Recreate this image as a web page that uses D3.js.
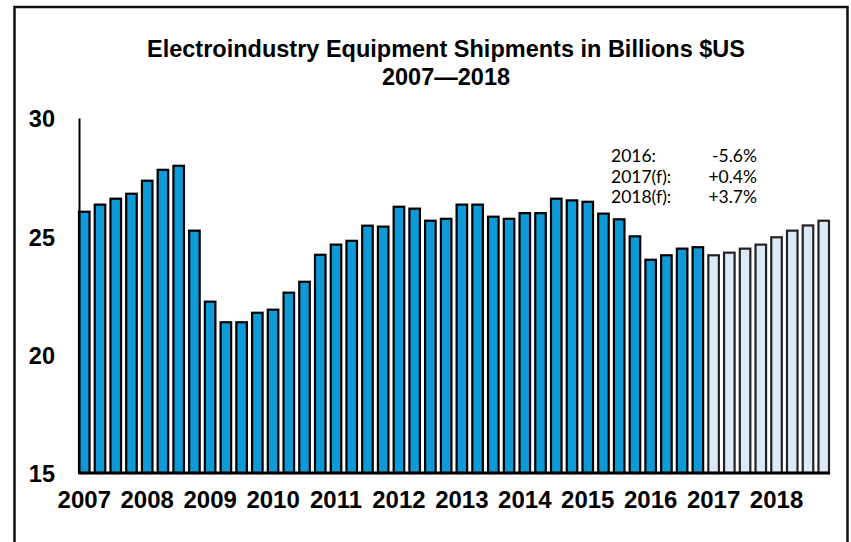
<!DOCTYPE html>
<html>
<head>
<meta charset="utf-8">
<script src="https://cdnjs.cloudflare.com/ajax/libs/d3/7.8.5/d3.min.js"></script>
<style>
  html, body { margin: 0; padding: 0; background: #fff; }
  svg { display: block; }
</style>
</head>
<body>
<svg id="chart" width="851" height="542"></svg>
<script>
// ---- data ----
const years = [2007, 2008, 2009, 2010, 2011, 2012, 2013, 2014, 2015, 2016, 2017, 2018];
const quarters = ["Q1", "Q2", "Q3", "Q4"];
const actualValues = [
  26.04, 26.34, 26.59, 26.80,   // 2007
  27.35, 27.81, 27.98, 25.24,   // 2008
  22.24, 21.37, 21.37, 21.77,   // 2009
  21.90, 22.62, 23.08, 24.22,   // 2010
  24.65, 24.81, 25.45, 25.41,   // 2011
  26.25, 26.17, 25.66, 25.74,   // 2012
  26.34, 26.34, 25.83, 25.74,   // 2013
  25.98, 25.98, 26.59, 26.52,   // 2014
  26.46, 25.96, 25.72, 25.00,   // 2015
  24.01, 24.20, 24.48, 24.54    // 2016
];
const forecastValues = [
  24.20, 24.31, 24.48, 24.65,   // 2017(f)
  24.96, 25.24, 25.46, 25.66    // 2018(f)
];
const yTicks = [15, 20, 25, 30];
const titleLines = ["Electroindustry Equipment Shipments in Billions $US", "2007\u20142018"];
const noteLabels = ["2016:", "2017(f):", "2018(f):"];
const noteValues = ["-5.6%", "+0.4%", "+3.7%"];

// ---- build rows ----
const rows = [];
years.forEach((yr, yi) => quarters.forEach((q, qi) => {
  const i = yi * 4 + qi;
  const forecast = i >= actualValues.length;
  const v = forecast ? forecastValues[i - actualValues.length] : actualValues[i];
  rows.push({ key: yr + " " + q, year: yr, q: qi, value: v, forecast });
}));

const svg = d3.select("#chart");

// frame
svg.append("rect")
  .attr("x", 14.5).attr("y", 7).attr("width", 833).attr("height", 560)
  .attr("fill", "none").attr("stroke", "#111").attr("stroke-width", 2.5);

const x = d3.scaleBand()
  .domain(rows.map(d => d.key))
  .range([79, 829])
  .paddingInner(0.33)
  .paddingOuter(0);

const y = d3.scaleLinear().domain([15, 30]).range([473, 118]);

// title
svg.append("g").selectAll("text").data(titleLines).join("text")
  .attr("x", 446)
  .attr("y", (d, i) => 57 + i * 28)
  .attr("text-anchor", "middle")
  .attr("font-family", "Liberation Sans, Arial, sans-serif")
  .attr("font-weight", "bold")
  .attr("font-size", 23.5)
  .attr("fill", "#000")
  .text(d => d);

// bars
svg.append("g").selectAll("rect").data(rows).join("rect")
  .attr("x", d => x(d.key))
  .attr("y", d => y(d.value))
  .attr("width", x.bandwidth())
  .attr("height", d => y(15) - y(d.value))
  .attr("fill", d => d.forecast ? "#dde9f5" : "#0e9ad6")
  .attr("stroke", d => d.forecast ? "#222" : "#000")
  .attr("stroke-width", 2.2);

// y axis
const yAxis = d3.axisLeft(y).tickValues(yTicks).tickSize(0).tickPadding(24).tickFormat(d3.format("d"));
const ya = svg.append("g").attr("transform", "translate(79,0)").call(yAxis);
ya.select(".domain").attr("stroke", "#000").attr("stroke-width", 2);
ya.selectAll("text")
  .attr("font-family", "Liberation Sans, Arial, sans-serif")
  .attr("font-weight", "bold")
  .attr("font-size", 23.5)
  .attr("fill", "#000")
  .attr("dy", "0.38em");

// x axis (labels at first quarter of each year)
const firstKeys = years.map(yr => yr + " Q1");
const xAxis = d3.axisBottom(x).tickValues(firstKeys).tickSize(0).tickPadding(18)
  .tickFormat(k => k.split(" ")[0]);
const xa = svg.append("g").attr("transform", "translate(0,473)").call(xAxis);
xa.select(".domain").remove();
xa.selectAll("text")
  .attr("font-family", "Liberation Sans, Arial, sans-serif")
  .attr("font-weight", "bold")
  .attr("font-size", 24)
  .attr("fill", "#000");

// baseline
svg.append("line")
  .attr("x1", x.range()[0]).attr("x2", x.range()[1] + 1)
  .attr("y1", y(15)).attr("y2", y(15))
  .attr("stroke", "#000").attr("stroke-width", 3);

// note
const note = svg.append("g")
  .attr("font-family", "Lato, Carlito, Calibri, sans-serif")
  .attr("font-size", 17.5)
  .attr("fill", "#000");
note.selectAll("text.lab").data(noteLabels).join("text")
  .attr("class", "lab")
  .attr("x", 611).attr("y", (d, i) => 162 + i * 20.5)
  .text(d => d);
note.selectAll("text.val").data(noteValues).join("text")
  .attr("class", "val")
  .attr("x", 757).attr("y", (d, i) => 162 + i * 20.5)
  .attr("text-anchor", "end")
  .text(d => d);
</script>
</body>
</html>
